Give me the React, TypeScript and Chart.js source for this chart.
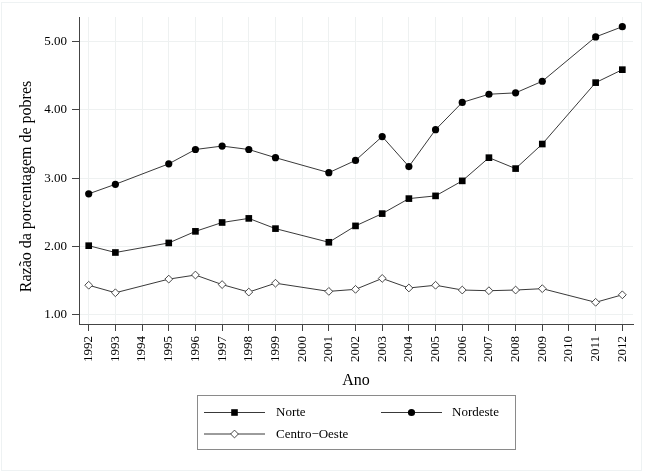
import React, { useEffect, useRef } from "react";
import { Chart, registerables } from "chart.js";

Chart.register(...registerables);

const tickYears = [1992, 1993, 1994, 1995, 1996, 1997, 1998, 1999, 2000, 2001, 2002, 2003, 2004, 2005, 2006, 2007, 2008, 2009, 2010, 2011, 2012];
const years = [1992, 1993, 1995, 1996, 1997, 1998, 1999, 2001, 2002, 2003, 2004, 2005, 2006, 2007, 2008, 2009, 2011, 2012];
const norte = [2.01, 1.91, 2.05, 2.22, 2.35, 2.41, 2.26, 2.06, 2.30, 2.48, 2.70, 2.74, 2.96, 3.30, 3.14, 3.50, 4.40, 4.59];
const nordeste = [2.77, 2.91, 3.21, 3.42, 3.47, 3.42, 3.30, 3.08, 3.26, 3.61, 3.17, 3.71, 4.11, 4.23, 4.25, 4.42, 5.07, 5.22];
const centroOeste = [1.43, 1.32, 1.52, 1.58, 1.44, 1.33, 1.46, 1.34, 1.37, 1.53, 1.39, 1.43, 1.36, 1.35, 1.36, 1.38, 1.18, 1.29];
const yTicks = [1, 2, 3, 4, 5];
const seriesNames = ["Norte", "Nordeste", "Centro\u2212Oeste"];
const yTitle = "Razão da porcentagem de pobres";
const xTitle = "Ano";

const FONT = "'Liberation Serif', 'Times New Roman', serif";

function drawMarker(ctx: CanvasRenderingContext2D, kind: string, x: number, y: number) {
  ctx.save();
  ctx.beginPath();
  if (kind === "square") {
    ctx.rect(x - 3.3, y - 3.3, 6.6, 6.6);
    ctx.fillStyle = "#000";
    ctx.fill();
  } else if (kind === "circle") {
    ctx.arc(x, y, 3.6, 0, Math.PI * 2);
    ctx.fillStyle = "#000";
    ctx.fill();
  } else {
    ctx.moveTo(x - 3.9, y);
    ctx.lineTo(x, y - 3.9);
    ctx.lineTo(x + 3.9, y);
    ctx.lineTo(x, y + 3.9);
    ctx.closePath();
    ctx.fillStyle = "#fff";
    ctx.fill();
    ctx.strokeStyle = "#333";
    ctx.lineWidth = 0.9;
    ctx.stroke();
  }
  ctx.restore();
}

const framePlugin = {
  id: "frame",
  beforeDraw(chart: any) {
    const ctx = chart.ctx;
    ctx.save();
    ctx.fillStyle = "#fff";
    ctx.fillRect(0, 0, chart.width, chart.height);
    ctx.strokeStyle = "#eef2f3";
    ctx.lineWidth = 1;
    ctx.strokeRect(1.5, 2.5, 640, 468);
    ctx.restore();
  },
};

const titlePlugin = {
  id: "yTitle",
  afterDraw(chart: any) {
    const ctx = chart.ctx;
    ctx.save();
    ctx.translate(30.5, 186.5);
    ctx.rotate(-Math.PI / 2);
    ctx.fillStyle = "#000";
    ctx.font = `16px ${FONT}`;
    ctx.textAlign = "center";
    ctx.textBaseline = "alphabetic";
    ctx.fillText(yTitle, 0, 0);
    ctx.restore();
  },
};

const legendPlugin = {
  id: "customLegend",
  afterDraw(chart: any) {
    const ctx = chart.ctx;
    ctx.save();
    ctx.strokeStyle = "#8a8a8a";
    ctx.lineWidth = 1;
    ctx.strokeRect(197.5, 395.5, 318, 54);
    const items = [
      { name: seriesNames[0], kind: "square", x0: 204, x1: 265, tx: 276, y: 412 },
      { name: seriesNames[1], kind: "circle", x0: 381, x1: 442, tx: 452, y: 412 },
      { name: seriesNames[2], kind: "diamond", x0: 204, x1: 265, tx: 276, y: 433.5 },
    ];
    for (const it of items) {
      ctx.beginPath();
      ctx.strokeStyle = "#222";
      ctx.lineWidth = 0.9;
      ctx.moveTo(it.x0, it.y + 0.5);
      ctx.lineTo(it.x1, it.y + 0.5);
      ctx.stroke();
      drawMarker(ctx, it.kind, (it.x0 + it.x1) / 2, it.y + 0.5);
      ctx.fillStyle = "#000";
      ctx.font = `13px ${FONT}`;
      ctx.textBaseline = "middle";
      ctx.textAlign = "left";
      ctx.fillText(it.name, it.tx, it.y + 1);
    }
    ctx.restore();
  },
};

export default function App() {
  const ref = useRef<HTMLCanvasElement | null>(null);
  useEffect(() => {
    if (!ref.current) return;
    const mk = (vals: number[]) => years.map((yr, i) => ({ x: yr, y: vals[i] }));
    const chart = new Chart(ref.current, {
      type: "line",
      data: {
        datasets: [
          {
            label: seriesNames[0],
            data: mk(norte),
            borderColor: "#222",
            borderWidth: 0.9,
            pointStyle: "rect",
            pointRadius: 4.7,
            pointBackgroundColor: "#000",
            pointBorderColor: "#000",
            pointBorderWidth: 0,
            tension: 0,
          },
          {
            label: seriesNames[1],
            data: mk(nordeste),
            borderColor: "#222",
            borderWidth: 0.9,
            pointStyle: "circle",
            pointRadius: 3.6,
            pointBackgroundColor: "#000",
            pointBorderColor: "#000",
            pointBorderWidth: 0,
            tension: 0,
          },
          {
            label: seriesNames[2],
            data: mk(centroOeste),
            borderColor: "#222",
            borderWidth: 0.9,
            pointStyle: "rectRot",
            pointRadius: 3.9,
            pointBackgroundColor: "#fff",
            pointBorderColor: "#333",
            pointBorderWidth: 0.9,
            tension: 0,
          },
        ],
      },
      options: {
        animation: false,
        responsive: false,
        devicePixelRatio: 1,
        layout: { padding: { left: 0, right: 17, top: 17, bottom: 80 } },
        plugins: { legend: { display: false }, tooltip: { enabled: false } },
        scales: {
          x: {
            type: "linear",
            min: 1991.636,
            max: 2012.4,
            afterBuildTicks: (s: any) => {
              s.ticks = tickYears.map((v) => ({ value: v }));
            },
            afterFit: (s: any) => {
              s.height = 68;
            },
            ticks: {
              autoSkip: false,
              minRotation: 90,
              maxRotation: 90,
              padding: 5,
              color: "#000",
              font: { family: FONT, size: 13 },
              callback: (v: any) => String(v),
            },
            grid: {
              color: "#eef1f1",
              lineWidth: 1,
              tickColor: "#444",
              tickLength: 7,
              drawOnChartArea: true,
            },
            border: { color: "#444", width: 1 },
            title: {
              display: true,
              text: xTitle,
              color: "#000",
              font: { family: FONT, size: 16 },
              padding: { top: 0, bottom: 1.5 },
            },
          },
          y: {
            type: "linear",
            min: 0.862,
            max: 5.362,
            afterBuildTicks: (s: any) => {
              s.ticks = yTicks.map((v) => ({ value: v }));
            },
            afterFit: (s: any) => {
              s.width = 79;
            },
            ticks: {
              padding: 5,
              color: "#000",
              font: { family: FONT, size: 13 },
              callback: (v: any) => Number(v).toFixed(2),
            },
            grid: {
              color: "#eef1f1",
              lineWidth: 1,
              tickColor: "#444",
              tickLength: 7,
            },
            border: { color: "#444", width: 1 },
            title: { display: false },
          },
        },
      },
      plugins: [framePlugin, titlePlugin, legendPlugin],
    } as any);
    return () => chart.destroy();
  }, []);
  return (
    <div style={{ position: "fixed", left: 0, top: 0, width: 650, height: 472, background: "#fff" }}>
      <canvas ref={ref} width={650} height={472} style={{ width: 650, height: 472, display: "block" }} />
    </div>
  );
}
